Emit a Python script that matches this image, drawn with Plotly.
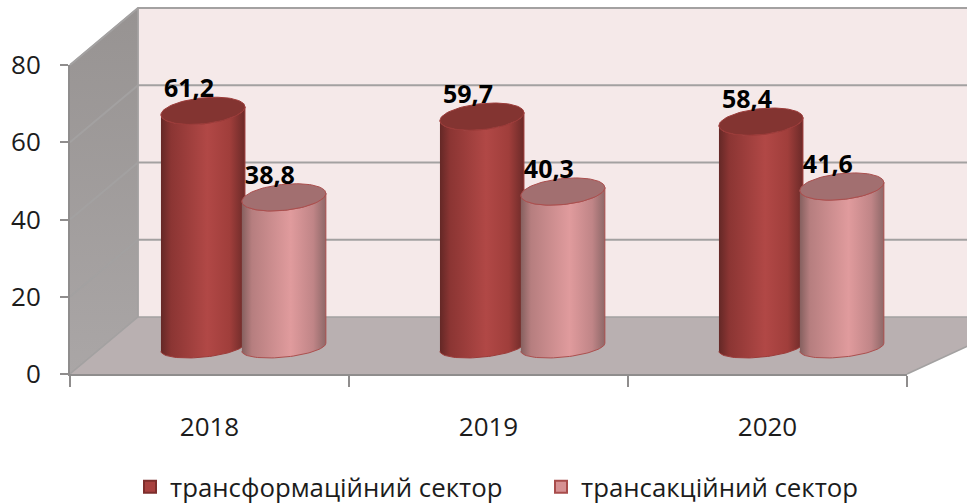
import numpy as np
import plotly.graph_objects as go

years = ["2018", "2019", "2020"]
transform_name = "трансформаційний сектор"
transact_name = "трансакційний сектор"
transform_vals = [61.2, 59.7, 58.4]
transact_vals = [38.8, 40.3, 41.6]
transform_text = ["61,2", "59,7", "58,4"]
transact_text = ["38,8", "40,3", "41,6"]
y_ticks = [0, 20, 40, 60, 80]

W, H = 967, 504
ML, MR, MT, MB = 70, 60, 65, 130
PX_X = (W - ML - MR) / 3
PX_Y = (H - MT - MB) / 80
DEPTH_X = 68 / PX_X
DEPTH_Y = 57 / PX_Y


def proj(c, v, d):
    return c + d * DEPTH_X, v + d * DEPTH_Y


fig = go.Figure()


def poly(xs, ys, color=None, line=None, gradient=None, width=1.3):
    kw = dict(x=list(xs), y=list(ys), mode="lines", showlegend=False,
              hoverinfo="skip")
    if color is not None or gradient is not None:
        kw["fill"] = "toself"
    if color is not None:
        kw["fillcolor"] = color
    if gradient is not None:
        kw["fillgradient"] = gradient
    kw["line"] = dict(color=line or "rgba(0,0,0,0)", width=width if line else 0)
    fig.add_trace(go.Scatter(**kw))


def corners(pts):
    return [proj(*p)[0] for p in pts], [proj(*p)[1] for p in pts]


GRID = "#a3a1a1"
# back wall
xs, ys = corners([(0, 0, 1), (3.2, 0, 1), (3.2, 80, 1), (0, 80, 1)])
poly(xs, ys, "#f5e9e9")
# side wall
xs, ys = corners([(0, 0, 0), (0, 0, 1), (0, 80, 1), (0, 80, 0)])
poly(xs, ys, gradient=dict(type="vertical",
     colorscale=[[0, "#aaa6a6"], [1, "#979392"]]), line=GRID)
# floor
xs, ys = corners([(0, 0, 0), (0, 0, 1), (3.2, 0, 1), (3, 0, 0)])
poly(xs, ys, "#b9b0b1", line=GRID, width=1.5)
# gridlines
for t in y_ticks[1:]:
    xs, ys = corners([(0, t, 0), (0, t, 1), (3.2, t, 1)])
    poly(xs, ys, line=GRID, width=2)
xs, ys = corners([(0, 0, 1), (0, 80, 1)])
poly(xs, ys, line=GRID, width=1.5)

RED = dict(body=[[0, "#642826"], [0.12, "#8b3533"], [0.55, "#b14846"],
                 [0.82, "#a03e3b"], [1, "#6b2a28"]],
           top="#833431", line="#9c3b39")
PINK = dict(body=[[0, "#86605f"], [0.12, "#b67e7f"], [0.58, "#e09b9d"],
                  [0.85, "#c08587"], [1, "#8e6868"]],
            top="#a26f70", line="#ab4f4e")

A = 42 / PX_X        # cylinder half width, category units
B = 13 / PX_Y        # top ellipse half height, value units
B_BASE = 10 / PX_Y   # visible base curve half height, value units
TILT = 4 / PX_Y      # rise of the ellipse's right end, value units
MID = 0.47


def ellipse(cx, cy, t, b=B):
    return cx + A * np.cos(t), cy + b * np.sin(t) + TILT * np.cos(t)


def cylinder(c, v, style):
    cx, base = proj(c, 0, MID)
    _, top = proj(c, v, MID)
    lower = np.linspace(np.pi, 2 * np.pi, 50)
    tx, ty = ellipse(cx, top, lower)
    bx, by = ellipse(cx, base, lower[::-1], B_BASE)
    poly(np.r_[tx, bx], np.r_[ty, by],
         gradient=dict(type="horizontal", colorscale=style["body"]),
         line=style["line"], width=1)
    full = np.linspace(0, 2 * np.pi, 90)
    ex, ey = ellipse(cx, top, full)
    poly(ex, ey, style["top"], line=style["line"], width=1)


OFFSET_RED, OFFSET_PINK = 0.362, 0.652
for i in range(3):
    cylinder(i + OFFSET_RED, transform_vals[i], RED)
    cylinder(i + OFFSET_PINK, transact_vals[i], PINK)

# value labels
lab_x, lab_y, lab_t = [], [], []
for i in range(3):
    for off, v, s in ((OFFSET_RED, transform_vals[i], transform_text[i]),
                      (OFFSET_PINK, transact_vals[i], transact_text[i])):
        x, y = proj(i + off, v, MID)
        lab_x.append(x - 14 / PX_X)
        lab_y.append(y + 20 / PX_Y)
        lab_t.append(s)
fig.add_trace(go.Scatter(x=lab_x, y=lab_y, text=lab_t, mode="text",
                         textposition="middle center", showlegend=False,
                         hoverinfo="skip",
                         textfont=dict(family="Open Sans", size=25, color="#000000",
                                       weight=700)))

# legend entries, on the subplot that owns the visible axes
for name, col, edge in ((transform_name, "#a8413f", "#7d2e2c"),
                        (transact_name, "#d69193", "#a84c4b")):
    fig.add_trace(go.Scatter(x=[None], y=[None], xaxis="x2", yaxis="y2",
                             mode="markers", name=name,
                             marker=dict(symbol="square", size=17, color=col,
                                         line=dict(color=edge, width=2))))

TICK_FONT = dict(family="Open Sans", size=26, color="#1c1c1c")
fig.update_layout(
    width=W, height=H, autosize=False,
    margin=dict(l=0, r=0, t=0, b=0, autoexpand=False),
    paper_bgcolor="#ffffff", plot_bgcolor="rgba(0,0,0,0)",
    font=TICK_FONT,
    legend=dict(orientation="h", x=130 / W, xref="container", xanchor="left",
                y=17 / H, yref="container", yanchor="middle", traceorder="normal",
                font=dict(family="Open Sans", size=25.8, color="#1c1c1c"),
                bgcolor="rgba(0,0,0,0)", itemwidth=30, itemsizing="constant",
                entrywidth=366, entrywidthmode="pixels"),
    # full-page axes that carry the 3D geometry
    xaxis=dict(domain=[0, 1], range=[-ML / PX_X, 3 + MR / PX_X], visible=False,
               automargin=False),
    yaxis=dict(domain=[0, 1], range=[-MB / PX_Y, 80 + MT / PX_Y], visible=False,
               automargin=False),
    # visible axes on the front plane
    xaxis2=dict(domain=[ML / W, 1 - MR / W], anchor="y2", range=[0, 3],
                showgrid=False, zeroline=False, showline=True,
                automargin=False, linecolor="#8f8d8d", linewidth=2,
                tickmode="array", tickvals=[0.5, 1.5, 2.5], ticktext=years,
                ticks="", ticklabelstandoff=29, tickfont=TICK_FONT,
                minor=dict(tickmode="array", tickvals=[0, 1, 2, 3], ticks="outside",
                           ticklen=11, tickwidth=2, tickcolor="#8f8d8d")),
    yaxis2=dict(domain=[MB / H, 1 - MT / H], anchor="x2", range=[0, 80],
                showgrid=False, zeroline=False, showline=True,
                automargin=False, linecolor="#8f8d8d", linewidth=2,
                tickmode="array", tickvals=y_ticks, ticks="outside", ticklen=8,
                tickwidth=2, tickcolor="#8f8d8d", ticklabelstandoff=14,
                tickfont=TICK_FONT),
)
fig.write_html("out.html", config={"displayModeBar": False},
               post_script="document.body.style.margin='0';")
